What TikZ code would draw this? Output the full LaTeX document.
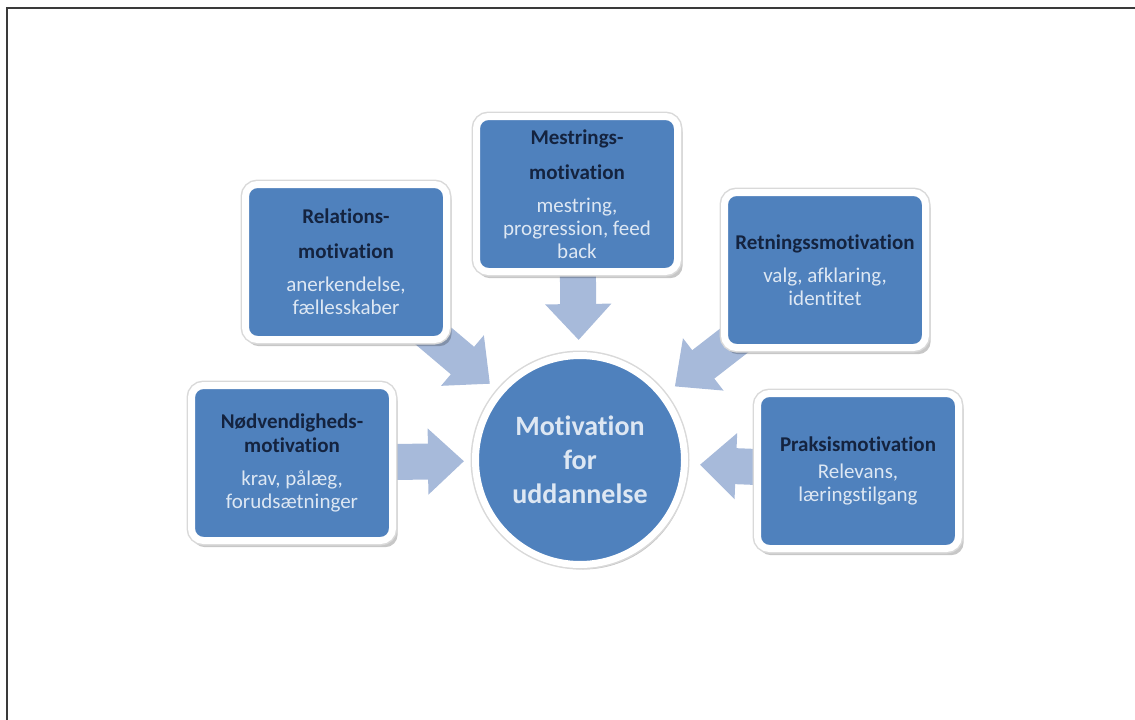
\documentclass[tikz,border=0pt]{standalone}
\usepackage{fontspec}
\setmainfont[Ligatures=NoCommon]{Carlito}
\usetikzlibrary{shadows,arrows.meta,calc,backgrounds}
\definecolor{boxblue}{HTML}{4F81BD}
\definecolor{arrowblue}{HTML}{A7BADA}
\definecolor{titlecol}{HTML}{14233F}
\definecolor{subcol}{HTML}{DDE7F3}
\definecolor{framecol}{HTML}{3A3A3A}
\newcommand\boxtitle[1]{{\bfseries\color{titlecol}#1}}
\begin{document}
\begin{tikzpicture}[x=1pt,y=-1pt,
  mbox/.style={rectangle, rounded corners=12pt, fill=boxblue, draw=white,
    line width=7pt, minimum width=201pt, minimum height=155pt, align=center,
    inner sep=0pt, text=subcol, font=\fontsize{21}{23}\selectfont,
    drop shadow={shadow xshift=3pt, shadow yshift=-5pt, shadow scale=1.02, opacity=0.22, fill=black},
    preaction={draw=black!15, line width=10pt}},
  hub/.style={circle, fill=boxblue, draw=white, line width=7pt, minimum size=209pt,
    inner sep=0pt, align=center, text=subcol, font=\fontsize{28}{34}\selectfont\bfseries,
    drop shadow={shadow xshift=3pt, shadow yshift=-5pt, opacity=0.22, fill=black},
    preaction={draw=black!15, line width=10pt}},
  bigarrow/.style={draw=arrowblue, line width=36pt, -{Triangle[width=64pt,length=36pt]}}]
\useasboundingbox (0,0) rectangle (1135,720);
\draw[framecol, line width=2.5pt] (7,720) -- (7,8) -- (1135,8);

\node[hub] (c) at (580,460) {Motivation\\for\\uddannelse};

\node[mbox] (rel) at (346,262) {\boxtitle{Relations-}\\[12pt]\boxtitle{motivation}\\[10pt]anerkendelse,\\fællesskaber};
\node[mbox] (mes) at (577,194) {\boxtitle{Mestrings-}\\[12pt]\boxtitle{motivation}\\[10pt]mestring,\\progression, feed\\back};
\node[mbox] (ret) at (825,270) {\boxtitle{Retningssmotivation}\\[10pt]valg, afklaring,\\identitet};
\node[mbox] (nod) at (292,463) {\boxtitle{Nødvendigheds-}\\[1pt]\boxtitle{motivation}\\[10pt]krav, pålæg,\\forudsætninger};
\node[mbox] (pra) at (858,471) {\boxtitle{Praksismotivation}\\[4pt]Relevans,\\læringstilgang};

\begin{pgfonlayer}{background}
\draw[bigarrow] (rel.center) -- ($(c)!118pt!(rel)$);
\draw[bigarrow] (mes.center) -- ($(c)!120pt!(mes)$);
\draw[bigarrow] (ret.center) -- ($(c)!120pt!(ret)$);
\draw[bigarrow] (nod.center) -- ($(c)!116pt!(nod)$);
\draw[bigarrow] (pra.center) -- ($(c)!120pt!(pra)$);
\end{pgfonlayer}
\end{tikzpicture}
\end{document}
